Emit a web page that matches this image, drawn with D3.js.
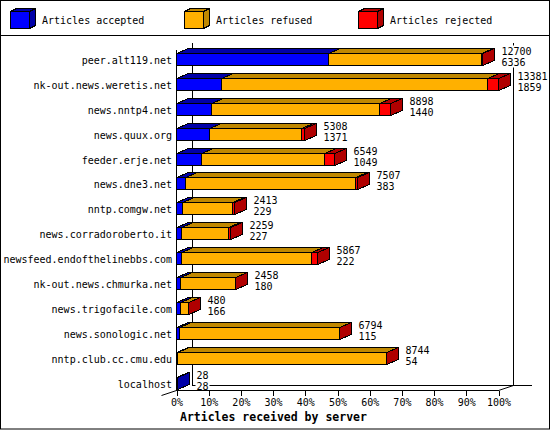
<!DOCTYPE html>
<html><head><meta charset="utf-8">
<script src="https://cdn.jsdelivr.net/npm/d3@7"></script>
<style>
html,body{margin:0;padding:0;background:#fff;}
svg{display:block;}
text{font-family:"DejaVu Sans Mono",monospace;}
</style></head>
<body>
<script>
const servers = ["peer.alt119.net","nk-out.news.weretis.net","news.nntp4.net","news.quux.org","feeder.erje.net","news.dne3.net","nntp.comgw.net","news.corradoroberto.it","newsfeed.endofthelinebbs.com","nk-out.news.chmurka.net","news.trigofacile.com","news.sonologic.net","nntp.club.cc.cmu.edu","localhost"];
const accepted = [6336,1859,1440,1371,1049,383,229,227,222,180,166,115,54,28];
const refused  = [6349,11072,6998,3817,5120,7064,2094,1952,5395,2273,312,6669,8680,0];
const rejected = [15,450,460,120,380,60,90,80,250,5,2,10,10,0];
const seriesNames = ["Articles accepted","Articles refused","Articles rejected"];
const seriesColors = ["#0000ff","#ffb000","#ff0000"];
const seriesDark = ["#0000a8","#c08800","#b00000"];
const tickValues = [0,10,20,30,40,50,60,70,80,90,100];
const tickLabels = ["0%","10%","20%","30%","40%","50%","60%","70%","80%","90%","100%"];
const xTitle = "Articles received by server";

const W=550,H=430;
const svg=d3.select("body").append("svg").attr("width",W).attr("height",H);
svg.append("rect").attr("x",0.5).attr("y",0.5).attr("width",549).attr("height",428.5)
  .attr("fill","#fff").attr("stroke","#000");
svg.append("line").attr("x1",0).attr("x2",550).attr("y1",35.5).attr("y2",35.5).attr("stroke","#000");

// legend
const legX=[10,184,358];
seriesNames.forEach((n,i)=>{
  const g=svg.append("g").attr("shape-rendering","crispEdges");
  const x0=legX[i]+0.5,y0=11.5,w=19,h=17,dx=6,dy=3;
  g.append("polygon").attr("points",`${x0},${y0} ${x0+dx},${y0-dy} ${x0+w+dx},${y0-dy} ${x0+w},${y0}`).attr("fill",seriesDark[i]).attr("stroke","#000");
  g.append("polygon").attr("points",`${x0+w},${y0} ${x0+w+dx},${y0-dy} ${x0+w+dx},${y0+h-dy} ${x0+w},${y0+h}`).attr("fill",seriesDark[i]).attr("stroke","#000");
  g.append("rect").attr("x",x0).attr("y",y0).attr("width",w).attr("height",h).attr("fill",seriesColors[i]).attr("stroke","#000");
  svg.append("text").attr("x",legX[i]+32).attr("y",20).attr("dy","0.35em").attr("font-size","10px").text(n);
});

const totals=servers.map((s,i)=>accepted[i]+refused[i]+rejected[i]);
const maxT=d3.max(totals);
const x=d3.scaleLinear().domain([0,maxT]).range([176,498]);
const y=d3.scaleBand().domain(servers).range([42.5,391]).padding(0);
const pct=d3.scaleLinear().domain([0,100]).range([176,498]);
const DX=12,DY=5,BH=12;
const barTop=s=>Math.round(y(s)+10.5)+0.5;

// back plane
const back=svg.append("g").attr("stroke","#000").attr("shape-rendering","crispEdges");
back.append("line").attr("x1",192.5).attr("x2",192.5).attr("y1",43).attr("y2",385.5);
back.append("line").attr("x1",513.5).attr("x2",513.5).attr("y1",43).attr("y2",385.5);
back.append("line").attr("x1",192).attr("x2",532).attr("y1",385.5).attr("y2",385.5);
back.append("line").attr("x1",176.5).attr("x2",176.5).attr("y1",50).attr("y2",390.5);
svg.append("line").attr("x1",498.5).attr("y1",390.5).attr("x2",513.5).attr("y2",385.5).attr("stroke","#000");
svg.append("line").attr("x1",161.5).attr("y1",395.5).attr("x2",176.5).attr("y2",390.5).attr("stroke","#000");

// bars
const series=[accepted,refused,rejected];
servers.forEach((s,i)=>{
  const g=svg.append("g").attr("shape-rendering","crispEdges");
  const t=barTop(s);
  let cum=0; let last=0;
  const segs=[];
  series.forEach((arr,k)=>{
    const v=arr[i];
    if(v>0){segs.push({k,x0:x(cum),x1:x(cum+v)});last=k;}
    cum+=v;
  });
  segs.forEach(sg=>{
    const a=Math.round(sg.x0)+0.5,b=Math.round(sg.x1)+0.5;
    g.append("polygon").attr("points",`${a},${t} ${a+DX},${t-DY} ${b+DX},${t-DY} ${b},${t}`)
      .attr("fill",seriesDark[sg.k]).attr("stroke","#000");
  });
  segs.forEach(sg=>{
    const a=Math.round(sg.x0)+0.5,b=Math.round(sg.x1)+0.5;
    g.append("rect").attr("x",a).attr("y",t).attr("width",Math.max(0,b-a)).attr("height",BH)
      .attr("fill",seriesColors[sg.k]).attr("stroke","#000");
  });
  const e=Math.round(x(totals[i]))+0.5;
  g.append("polygon").attr("points",`${e},${t} ${e+DX},${t-DY} ${e+DX},${t+BH-DY} ${e},${t+BH}`)
    .attr("fill",seriesDark[last]).attr("stroke","#000");
  // value labels with white background
  const lx=e+DX+7;
  const lab=[String(totals[i]),String(accepted[i])];
  const wdt=d3.max(lab,d=>d.length)*6+2;
  svg.append("rect").attr("x",lx-1).attr("y",t-8).attr("width",wdt).attr("height",22).attr("fill","#fff");
  svg.append("text").attr("x",lx).attr("y",t-2.5).attr("dy","0.35em").attr("font-size","10px").text(lab[0]);
  svg.append("text").attr("x",lx).attr("y",t+8.5).attr("dy","0.35em").attr("font-size","10px").text(lab[1]);
  // category label
  svg.append("text").attr("x",172).attr("y",t+6.5).attr("dy","0.35em").attr("text-anchor","end").attr("font-size","10px").text(s);
});

// front axis
svg.append("line").attr("x1",176).attr("x2",499).attr("y1",390.5).attr("y2",390.5).attr("stroke","#000").attr("shape-rendering","crispEdges");
const ax=d3.axisBottom(pct).tickValues(tickValues).tickFormat((d,i)=>tickLabels[i]).tickSize(5).tickPadding(3);
const axg=svg.append("g").attr("transform","translate(0.5,390.5)").call(ax);
axg.select(".domain").remove();
axg.selectAll("line").attr("stroke","#000").attr("shape-rendering","crispEdges");
axg.selectAll("text").attr("font-family","DejaVu Sans Mono, monospace").attr("font-size","10px").attr("fill","#000");

svg.append("text").attr("x",180).attr("y",417).attr("dy","0.35em").attr("font-size","11.5px").attr("font-weight","bold").text(xTitle);
</script>
</body></html>
